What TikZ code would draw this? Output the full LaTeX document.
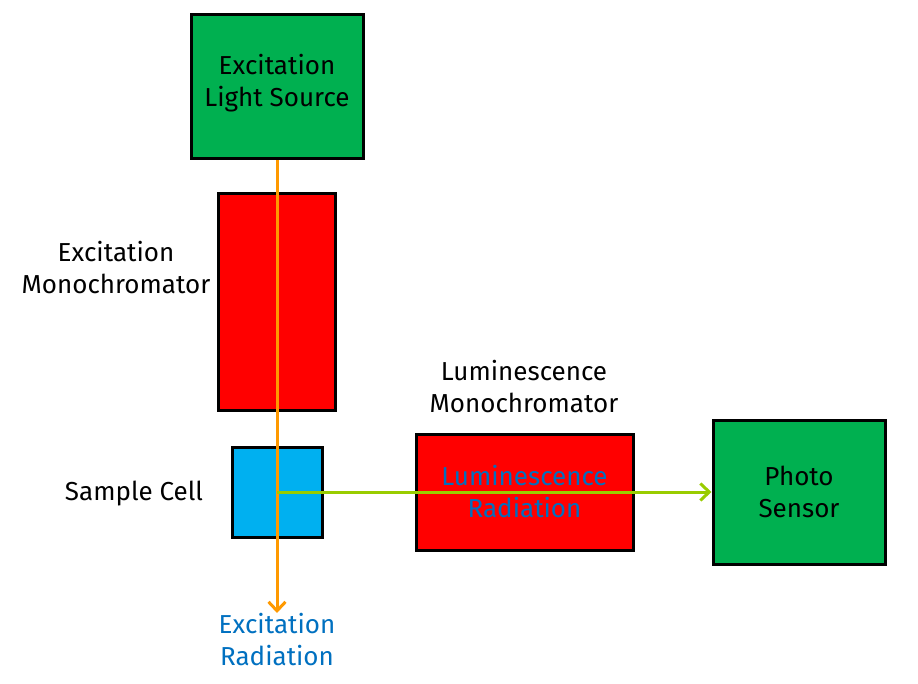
\documentclass[tikz,border=0pt]{standalone}
\usepackage{fontspec}
\setmainfont{Fira Sans}
\usetikzlibrary{arrows.meta}
\definecolor{boxgreen}{HTML}{00B050}
\definecolor{boxred}{HTML}{FF0000}
\definecolor{cellblue}{HTML}{00B0F0}
\definecolor{txtblue}{HTML}{0070C0}
\definecolor{exorange}{HTML}{FF9900}
\definecolor{lumgreen}{HTML}{99CC00}
\begin{document}
\begin{tikzpicture}[x=1pt,y=-1pt,
  blk/.style={draw=black,line width=3pt,inner sep=0pt},
  lbl/.style={align=center,font=\fontsize{26}{32}\selectfont,inner sep=0pt},
  ray/.style={line width=3pt,-{Straight Barb[length=9pt,width=17pt,line width=3pt]}}]
\useasboundingbox (0,0) rectangle (918,684);
\node[blk,fill=boxgreen,minimum width=172pt,minimum height=144pt] (src) at (277,87) {};
\node[blk,fill=boxred,minimum width=117pt,minimum height=216pt] (exmono) at (276.5,302) {};
\node[blk,fill=cellblue,minimum width=90pt,minimum height=90pt] (cell) at (277,492) {};
\node[blk,fill=boxred,minimum width=217pt,minimum height=116pt] (lummono) at (524.5,492) {};
\node[blk,fill=boxgreen,minimum width=172pt,minimum height=144pt] (sensor) at (799,492) {};
\coordinate (tipout) at (277,613);
\coordinate (cellc) at (277,492);
\draw[ray,draw=exorange] (src.south) -- (tipout);
\draw[ray,draw=lumgreen] (cellc) -- (sensor.west);
\node[lbl] at (277,83) {Excitation\\Light Source};
\node[lbl] at (116,268) {Excitation\\Monochromator};
\node[lbl] at (524,387) {Luminescence\\Monochromator};
\node[lbl] at (134,494) {Sample Cell};
\node[lbl,text=txtblue] at (lummono.center) {Luminescence\\Radiation};
\node[lbl] at (sensor.center) {Photo\\Sensor};
\node[lbl,text=txtblue] (exrad) at (277,640) {Excitation\\Radiation};
\end{tikzpicture}
\end{document}
